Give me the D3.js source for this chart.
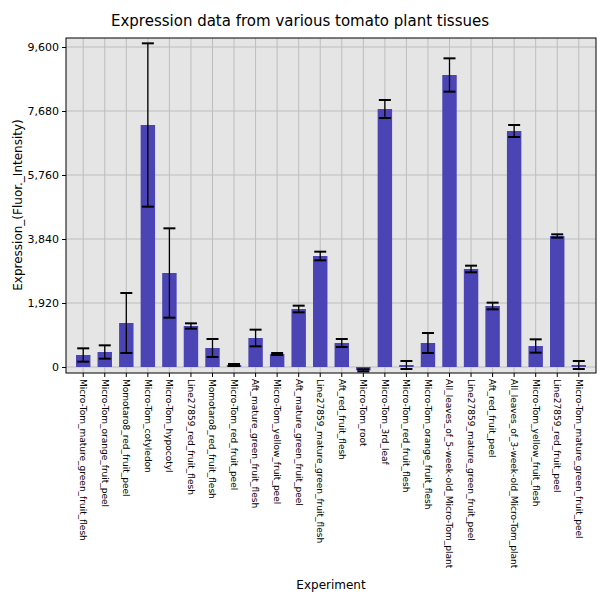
<!DOCTYPE html><html><head><meta charset="utf-8">
<script src="https://cdn.jsdelivr.net/npm/d3@7"></script>
<style>body{margin:0;background:#fff}text{font-family:"DejaVu Sans",sans-serif}</style></head><body>
<svg id="c" width="600" height="600"></svg>
<script>
const categories=["Micro-Tom_mature_green_fruit_flesh","Micro-Tom_orange_fruit_peel","Momotaro8_red_fruit_peel","Micro-Tom_cotyledon","Micro-Tom_hypocotyl","Line27859_red_fruit_flesh","Momotaro8_red_fruit_flesh","Micro-Tom_red_fruit_peel","Aft_mature_green_fruit_flesh","Micro-Tom_yellow_fruit_peel","Aft_mature_green_fruit_peel","Line27859_mature_green_fruit_flesh","Aft_red_fruit_flesh","Micro-Tom_root","Micro-Tom_3rd_leaf","Micro-Tom_red_fruit_flesh","Micro-Tom_orange_fruit_flesh","All_leaves_of_5-week-old_Micro-Tom_plant","Line27859_mature_green_fruit_peel","Aft_red_fruit_peel","All_leaves_of_3-week-old_Micro-Tom_plant","Micro-Tom_yellow_fruit_flesh","Line27859_red_fruit_peel","Micro-Tom_mature_green_fruit_peel"];
const values=[360,450,1320,7260,2820,1230,570,60,870,390,1740,3330,720,-100,7740,60,720,8760,2940,1830,7080,630,3930,60];
const errors=[200,200,900,2450,1340,80,270,30,250,30,100,130,120,30,270,120,300,500,100,100,180,200,50,120];
const yTicks=[0,1920,3840,5760,7680,9600];
const svg=d3.select("#c");
const L=66,R=596,T=38,B=373;
const x=d3.scaleBand().domain(categories).range([76,586]).paddingInner(0.33);
const y=d3.scaleLinear().domain([-180,9870]).range([B,T]);
svg.append("rect").attr("x",L).attr("y",T).attr("width",R-L).attr("height",B-T).attr("fill","#e5e5e5");
svg.append("g").selectAll("line").data(yTicks).join("line").attr("x1",L).attr("x2",R).attr("y1",d=>y(d)).attr("y2",d=>y(d)).attr("stroke","#bdbdbd");
svg.append("g").selectAll("line").data(categories).join("line").attr("x1",d=>x(d)+x.bandwidth()/2).attr("x2",d=>x(d)+x.bandwidth()/2).attr("y1",T).attr("y2",B).attr("stroke","#bdbdbd");
svg.append("g").selectAll("rect").data(values).join("rect").attr("x",(d,i)=>x(categories[i])).attr("width",x.bandwidth()).attr("y",d=>y(Math.max(0,d))).attr("height",d=>Math.abs(y(d)-y(0))).attr("fill","#4b44b5");
const eg=svg.append("g").attr("stroke","#000").attr("stroke-width",1.3);
values.forEach((v,i)=>{const cx=x(categories[i])+x.bandwidth()/2;
 eg.append("line").attr("x1",cx).attr("x2",cx).attr("y1",y(v-errors[i])).attr("y2",y(v+errors[i]));
 [v-errors[i],v+errors[i]].forEach(e=>eg.append("line").attr("x1",cx-6).attr("x2",cx+6).attr("y1",y(e)).attr("y2",y(e)).attr("stroke-width",2));});
svg.append("rect").attr("x",L).attr("y",T).attr("width",R-L).attr("height",B-T).attr("fill","none").attr("stroke","#000");
svg.append("g").attr("transform",`translate(${L},0)`).call(d3.axisLeft(y).tickValues(yTicks).tickSize(4)).call(g=>{g.select(".domain").remove();g.selectAll("text").attr("font-size",11).attr("fill","#000");});
const xa=svg.append("g").attr("transform",`translate(0,${B})`).call(d3.axisBottom(x).tickSize(4));
xa.select(".domain").remove();
xa.selectAll("text").attr("font-size",9).attr("fill","#000").attr("transform","rotate(90)").attr("x",6).attr("y",0).attr("dy","0.35em").attr("text-anchor","start");
svg.append("text").attr("x",300).attr("y",26).attr("text-anchor","middle").attr("font-size",15).text("Expression data from various tomato plant tissues");
svg.append("text").attr("x",331).attr("y",589).attr("text-anchor","middle").attr("font-size",12).text("Experiment");
svg.append("text").attr("transform","translate(22,205) rotate(-90)").attr("text-anchor","middle").attr("font-size",12).text("Expression_(Fluor._Intensity)");
</script></body></html>
